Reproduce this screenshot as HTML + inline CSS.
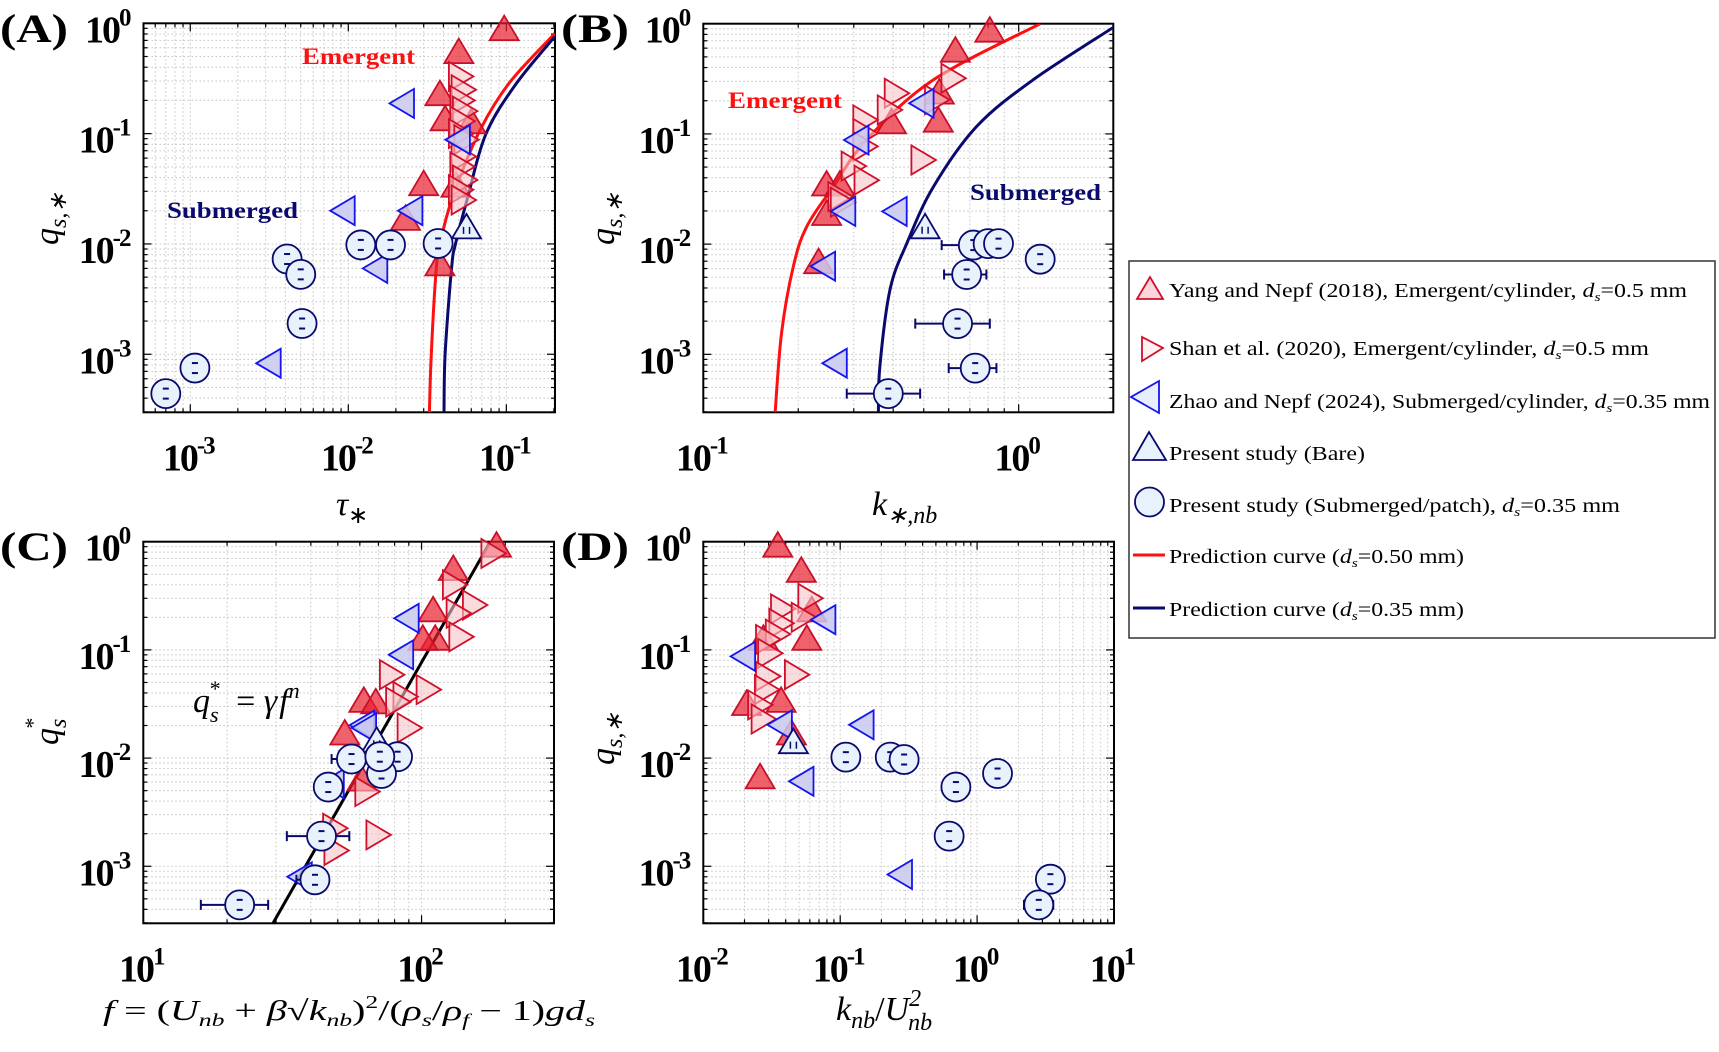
<!DOCTYPE html>
<html><head><meta charset="utf-8"><title>Sediment transport panels</title>
<style>
html,body{margin:0;padding:0;background:#fff;}
svg{display:block;font-family:"Liberation Serif",serif;}
</style></head>
<body>
<svg id="fig" width="1719" height="1052" viewBox="0 0 1719 1052" xmlns="http://www.w3.org/2000/svg">
<rect x="0" y="0" width="1719" height="1052" fill="#fff"/>
<g id="layer"></g>
<g>
  <rect x="1129" y="261" width="586" height="377" fill="#fff" stroke="#333" stroke-width="1.5"/>
  <g>
    <polygon points="1137,299 1163,299 1150,277" fill="#f9d6d9" stroke="#d0102a" stroke-width="1.8"/>
    <text x="1169" y="297" font-size="20" textLength="518" lengthAdjust="spacingAndGlyphs">Yang and Nepf (2018), Emergent/cylinder, <tspan font-style="italic">d</tspan><tspan font-size="13" dy="4" font-style="italic">s</tspan><tspan dy="-4">=0.5 mm</tspan></text>
  </g>
  <g>
    <polygon points="1142,337 1163,348 1142,361" fill="#fff0f1" stroke="#d0102a" stroke-width="1.8"/>
    <text x="1169" y="355" font-size="20" textLength="480" lengthAdjust="spacingAndGlyphs">Shan et al. (2020), Emergent/cylinder, <tspan font-style="italic">d</tspan><tspan font-size="13" dy="4" font-style="italic">s</tspan><tspan dy="-4">=0.5 mm</tspan></text>
  </g>
  <g>
    <polygon points="1159,381 1159,413 1131,397" fill="#e8eefc" stroke="#1515f0" stroke-width="1.8"/>
    <text x="1169" y="408" font-size="20" textLength="541" lengthAdjust="spacingAndGlyphs">Zhao and Nepf (2024), Submerged/cylinder, <tspan font-style="italic">d</tspan><tspan font-size="13" dy="4" font-style="italic">s</tspan><tspan dy="-4">=0.35 mm</tspan></text>
  </g>
  <g>
    <polygon points="1133,460 1166,460 1149,432" fill="#e8f2fc" stroke="#0a0a6e" stroke-width="1.8"/>
    <text x="1169" y="460" font-size="20" textLength="196" lengthAdjust="spacingAndGlyphs">Present study (Bare)</text>
  </g>
  <g>
    <ellipse cx="1149.5" cy="502" rx="14.5" ry="14.5" fill="#e8f2fc" stroke="#0a0a6e" stroke-width="1.8"/>
    <text x="1169" y="512" font-size="20" textLength="451" lengthAdjust="spacingAndGlyphs">Present study (Submerged/patch), <tspan font-style="italic">d</tspan><tspan font-size="13" dy="4" font-style="italic">s</tspan><tspan dy="-4">=0.35 mm</tspan></text>
  </g>
  <g>
    <line x1="1133" y1="555" x2="1165" y2="555" stroke="#ff1010" stroke-width="3"/>
    <text x="1169" y="563" font-size="20" textLength="295" lengthAdjust="spacingAndGlyphs">Prediction curve (<tspan font-style="italic">d</tspan><tspan font-size="13" dy="4" font-style="italic">s</tspan><tspan dy="-4">=0.50 mm)</tspan></text>
  </g>
  <g>
    <line x1="1133" y1="608" x2="1165" y2="608" stroke="#0a0a6e" stroke-width="3"/>
    <text x="1169" y="616" font-size="20" textLength="295" lengthAdjust="spacingAndGlyphs">Prediction curve (<tspan font-style="italic">d</tspan><tspan font-size="13" dy="4" font-style="italic">s</tspan><tspan dy="-4">=0.35 mm)</tspan></text>
  </g>
</g>
<g font-weight="bold" font-size="40">
  <text x="0" y="42" textLength="68" lengthAdjust="spacingAndGlyphs">(A)</text>
  <text x="561" y="42" textLength="68" lengthAdjust="spacingAndGlyphs">(B)</text>
  <text x="0" y="560" textLength="68" lengthAdjust="spacingAndGlyphs">(C)</text>
  <text x="561" y="560" textLength="68" lengthAdjust="spacingAndGlyphs">(D)</text>
</g>
<g font-weight="bold" font-size="23">
  <text x="302" y="64" fill="#ff1010" textLength="113" lengthAdjust="spacingAndGlyphs">Emergent</text>
  <text x="167" y="218" fill="#0a0a6e" textLength="131" lengthAdjust="spacingAndGlyphs">Submerged</text>
  <text x="728" y="108" fill="#ff1010" textLength="114" lengthAdjust="spacingAndGlyphs">Emergent</text>
  <text x="970" y="200" fill="#0a0a6e" textLength="131" lengthAdjust="spacingAndGlyphs">Submerged</text>
</g>
<g font-size="34" font-style="italic">
  <text x="193" y="712">q<tspan font-size="22" dy="10">s</tspan><tspan font-size="22" dx="-10" dy="-26">*</tspan><tspan font-style="normal" dy="16" dx="8"> = </tspan>γ<tspan dx="2">f</tspan><tspan font-size="22" dy="-14">n</tspan></text>
</g>
<g font-size="34" font-style="italic">
  <text x="336" y="515">τ<tspan font-size="24" dy="8" font-style="normal">∗</tspan></text>
  <text x="872" y="515">k<tspan font-size="24" dy="8">∗,nb</tspan></text>
  <text transform="translate(58,245) rotate(-90)">q<tspan font-size="24" dy="8">s,∗</tspan></text>
  <text transform="translate(614,245) rotate(-90)">q<tspan font-size="24" dy="8">s,∗</tspan></text>
  <text transform="translate(58,745) rotate(-90)">q<tspan font-size="24" dy="8">s</tspan><tspan font-size="22" dx="-11" dy="-26">*</tspan></text>
  <text transform="translate(614,765) rotate(-90)">q<tspan font-size="24" dy="8">s,∗</tspan></text>
  <text x="103" y="1020" font-size="28" textLength="492" lengthAdjust="spacingAndGlyphs">f<tspan font-style="normal"> = (</tspan>U<tspan font-size="18" dy="6">nb</tspan><tspan font-style="normal" dy="-6"> + </tspan>β<tspan font-style="normal">√</tspan>k<tspan font-size="18" dy="6">nb</tspan><tspan font-style="normal" dy="-6">)</tspan><tspan font-style="normal" font-size="18" dy="-12">2</tspan><tspan font-style="normal" dy="12">/(</tspan>ρ<tspan font-size="18" dy="6">s</tspan><tspan font-style="normal" dy="-6">/</tspan>ρ<tspan font-size="18" dy="6">f</tspan><tspan font-style="normal" dy="-6"> − 1)</tspan>gd<tspan font-size="18" dy="6">s</tspan></text>
  <text x="836" y="1020">k<tspan font-size="24" dy="8">nb</tspan><tspan font-style="normal" dy="-8">/</tspan>U<tspan font-size="24" dy="-14">2</tspan><tspan font-size="24" dx="-13" dy="24">nb</tspan></text>
</g>
</svg>
<script>
// ===== Data =====
// Panel A: x = tau_*, y = q_{s,*}
const aYangX = [0.097, 0.050, 0.038, 0.041, 0.060, 0.030, 0.048, 0.023, 0.038];
const aYangY = [0.84, 0.52, 0.216, 0.128, 0.12, 0.033, 0.032, 0.016, 0.0062];
const aShanX = [0.049, 0.051, 0.050, 0.052, 0.050, 0.049, 0.053, 0.051, 0.050, 0.052, 0.049, 0.051];
const aShanY = [0.33, 0.25, 0.20, 0.16, 0.13, 0.10, 0.088, 0.062, 0.050, 0.038, 0.031, 0.025];
const aZhaoX = [0.023, 0.052, 0.0097, 0.026, 0.0156, 0.0033];
const aZhaoY = [0.188, 0.088, 0.020, 0.020, 0.006, 0.00083];
const aBareX = [0.056];
const aBareY = [0.0134];
const aPresX = [0.012, 0.0185, 0.037, 0.0041, 0.005, 0.0051, 0.00107, 0.0007];
const aPresY = [0.0098, 0.0098, 0.0101, 0.0073, 0.0053, 0.0019, 0.00075, 0.00044];
const aPresLo = [0.0115, 0, 0, 0, 0, 0.0046, 0, 0.00058];
const aPresHi = [0, 0, 0, 0, 0, 0, 0, 0.00085];
const aRedX = [0.0326, 0.0335, 0.0361, 0.0381, 0.0451, 0.0665, 0.104, 0.203];
const aRedY = [0.0003, 0.001, 0.0062, 0.01, 0.025, 0.1, 0.286, 0.81];
const aNavyX = [0.0403, 0.041, 0.0451, 0.0477, 0.0564, 0.0745, 0.116, 0.203];
const aNavyY = [0.0003, 0.001, 0.0062, 0.01, 0.025, 0.1, 0.286, 0.76];

// Panel B: x = k_{*,nb}
const bYangX = [0.81, 0.63, 0.56, 0.556, 0.395, 0.246, 0.271, 0.246, 0.232];
const bYangY = [0.82, 0.54, 0.225, 0.125, 0.121, 0.033, 0.033, 0.0178, 0.0065];
const bShanX = [0.605, 0.40, 0.537, 0.38, 0.318, 0.318, 0.318, 0.486, 0.292, 0.321, 0.265, 0.27];
const bShanY = [0.32, 0.234, 0.204, 0.165, 0.134, 0.101, 0.077, 0.058, 0.051, 0.038, 0.027, 0.024];
const bZhaoX = [0.505, 0.314, 0.285, 0.415, 0.246, 0.268];
const bZhaoY = [0.19, 0.088, 0.0198, 0.0198, 0.0063, 0.00083];
const bBareX = [0.505];
const bBareY = [0.0135];
const bPresX = [0.718, 0.80, 0.863, 1.17, 0.684, 0.64, 0.728, 0.386];
const bPresY = [0.0098, 0.0101, 0.0101, 0.0073, 0.0053, 0.0019, 0.00075, 0.00044];
const bPresLo = [0.57, 0, 0, 0, 0.58, 0.47, 0.60, 0.285];
const bPresHi = [0, 0, 0, 0, 0.79, 0.81, 0.85, 0.487];
const bRedX = [0.169, 0.177, 0.193, 0.213, 0.258, 0.330, 0.536, 1.17];
const bRedY = [0.0003, 0.00155, 0.0063, 0.0145, 0.033, 0.089, 0.309, 1.0];
const bNavyX = [0.359, 0.363, 0.391, 0.442, 0.536, 0.736, 1.11, 2.0];
const bNavyY = [0.0003, 0.00078, 0.0039, 0.0102, 0.033, 0.117, 0.309, 0.93];

// Panel C: x = f, y = q_s^*
const cYangX = [186, 130, 110, 112, 101, 62, 68.5, 53, 61];
const cYangY = [0.87, 0.53, 0.22, 0.12, 0.12, 0.032, 0.031, 0.016, 0.006];
const cShanX = [176, 128, 151, 132, 135, 76, 103, 85, 80, 88, 62, 47.5, 68, 48];
const cShanY = [0.78, 0.40, 0.26, 0.218, 0.132, 0.059, 0.043, 0.037, 0.033, 0.019, 0.0049, 0.00225, 0.00195, 0.0014];
const cZhaoX = [91, 87, 63, 64, 49, 37.6];
const cZhaoY = [0.196, 0.09, 0.0202, 0.019, 0.0058, 0.0008];
const cBareX = [69];
const cBareY = [0.0137];
const cPresX = [22.2, 41.4, 43.7, 46.2, 56, 82, 71.8, 70.8];
const cPresY = [0.00044, 0.00075, 0.0019, 0.0054, 0.0098, 0.0103, 0.0072, 0.0103];
const cPresLo = [16.1, 35.5, 32.8, 41.5, 47.5, 0, 0, 0];
const cPresHi = [28.1, 44.5, 55, 0, 0, 0, 0, 0];
const cFitX = [29.3, 175];
const cFitY = [0.0003, 0.96];

// Panel D: x = k_nb / U_nb^2
const dYangX = [0.035, 0.052, 0.062, 0.057, 0.0275, 0.037, 0.0207, 0.044, 0.026];
const dYangY = [0.87, 0.51, 0.22, 0.12, 0.12, 0.032, 0.030, 0.016, 0.0063];
const dShanX = [0.057, 0.036, 0.051, 0.035, 0.033, 0.028, 0.029, 0.0455, 0.028, 0.0275, 0.0245, 0.026];
const dShanY = [0.30, 0.24, 0.20, 0.176, 0.14, 0.125, 0.093, 0.059, 0.057, 0.043, 0.031, 0.023];
const dZhaoX = [0.08, 0.0207, 0.0385, 0.152, 0.0553, 0.29];
const dZhaoY = [0.19, 0.087, 0.0203, 0.0203, 0.0061, 0.00084];
const dBareX = [0.0455];
const dBareY = [0.0133];
const dPresX = [0.110, 0.232, 0.293, 0.70, 1.41, 0.625, 3.43, 2.82];
const dPresY = [0.0102, 0.0102, 0.0097, 0.0054, 0.0072, 0.0019, 0.00076, 0.00044];
const dPresLo = [0, 0, 0, 0, 0, 0.50, 0, 2.2];
const dPresHi = [0, 0, 0, 0, 0, 0.78, 0, 3.6];

// ===== drawing =====
const NS = 'http://www.w3.org/2000/svg';
const layer = document.getElementById('layer');
function mk(tag, attrs, parent) {
  const e = document.createElementNS(NS, tag);
  for (const k in attrs) e.setAttribute(k, attrs[k]);
  (parent || layer).appendChild(e);
  return e;
}
function makeAxes(px0, px1, py0, py1, lx0, lx1, ly0, ly1) {
  return {
    px0, px1, py0, py1, lx0, lx1, ly0, ly1,
    sx: v => px0 + (Math.log10(v) - lx0) / (lx1 - lx0) * (px1 - px0),
    sy: v => py0 + (Math.log10(v) - ly0) / (ly1 - ly0) * (py1 - py0)
  };
}
const axA = makeAxes(143.5, 555, 23.3, 412.3, -3.296, -0.692, 0, -3.526);
const axB = makeAxes(703.3, 1113.3, 23.7, 412.3, -1, 0.30, 0, -3.526);
const axC = makeAxes(143.3, 554, 541.7, 923.3, 1, 2.476, 0, -3.527);
const axD = makeAxes(703.3, 1114, 541.7, 923.3, -2, 1, 0, -3.527);

function drawFrame(ax, name, xLabels, yLabels) {
  const g = mk('g', {});
  
  
  const grid = mk('g', {stroke: '#c4c4c4', 'stroke-width': 1, 'stroke-dasharray': '1.5,2.5', fill: 'none'}, g);
  
  
  const ticks = mk('g', {stroke: '#000', 'stroke-width': 1.2}, g);
  const xs = [], ys = [];
  for (let d = Math.floor(ax.lx0) - 1; d <= Math.ceil(ax.lx1); d++) {
    for (let m = 1; m <= 9; m++) {
      const l = d + Math.log10(m);
      if (l < ax.lx0 - 1e-6 || l > ax.lx1 + 1e-6) continue;
      xs.push([Math.pow(10, l), m === 1]);
    }
  }
  for (let d = Math.floor(ax.ly1) - 1; d <= Math.ceil(ax.ly0); d++) {
    for (let m = 1; m <= 9; m++) {
      const l = d + Math.log10(m);
      if (l < ax.ly1 - 1e-6 || l > ax.ly0 + 1e-6) continue;
      ys.push([Math.pow(10, l), m === 1]);
    }
  }
  xs.forEach(([v, maj]) => {
    const x = ax.sx(v);
    mk('line', {x1: x, x2: x, y1: ax.py0, y2: ax.py1}, grid);
    const L = maj ? 8 : 4;
    mk('line', {x1: x, x2: x, y1: ax.py1, y2: ax.py1 - L}, ticks);
    mk('line', {x1: x, x2: x, y1: ax.py0, y2: ax.py0 + L}, ticks);
  });
  ys.forEach(([v, maj]) => {
    const y = ax.sy(v);
    mk('line', {x1: ax.px0, x2: ax.px1, y1: y, y2: y}, grid);
    const L = maj ? 8 : 4;
    mk('line', {x1: ax.px0, x2: ax.px0 + L, y1: y, y2: y}, ticks);
    mk('line', {x1: ax.px1, x2: ax.px1 - L, y1: y, y2: y}, ticks);
  });
  const box = mk('rect', {x: ax.px0, y: ax.py0, width: ax.px1 - ax.px0, height: ax.py1 - ax.py0, fill: 'none', stroke: '#000', 'stroke-width': 2}, g);
  
  
  xLabels.forEach(e => {
    const t = mk('text', {x: ax.sx(Math.pow(10, e)) - 2, y: ax.py1 + 58, 'text-anchor': 'middle', 'font-size': 38, 'font-weight': 'bold', 'letter-spacing': '-2'}, g);
    
    
    const a = mk('tspan', {}, t); a.textContent = '10';
    const b = mk('tspan', {'font-size': 25, dy: -17}, t); b.textContent = String(e);
  });
  yLabels.forEach(e => {
    const t = mk('text', {x: ax.px0 - 14, y: ax.sy(Math.pow(10, e)) + 19, 'text-anchor': 'end', 'font-size': 38, 'font-weight': 'bold', 'letter-spacing': '-2'}, g);
    
    
    const a = mk('tspan', {}, t); a.textContent = '10';
    const b = mk('tspan', {'font-size': 25, dy: -17}, t); b.textContent = String(e);
  });
}
function clipFor(ax, id) {
  const cp = mk('clipPath', {id: id});
  mk('rect', {x: ax.px0, y: ax.py0, width: ax.px1 - ax.px0, height: ax.py1 - ax.py0}, cp);
  return 'url(#' + id + ')';
}
function curve(ax, X, Y, color, name, clip) {
  const P = X.map((v, i) => [ax.sx(v), ax.sy(Y[i])]);
  let d = 'M' + P[0][0].toFixed(1) + ',' + P[0][1].toFixed(1);
  for (let i = 0; i < P.length - 1; i++) {
    const p0 = P[Math.max(0, i - 1)], p1 = P[i], p2 = P[i + 1], p3 = P[Math.min(P.length - 1, i + 2)];
    const c1 = [p1[0] + (p2[0] - p0[0]) / 6, p1[1] + (p2[1] - p0[1]) / 6];
    const c2 = [p2[0] - (p3[0] - p1[0]) / 6, p2[1] - (p3[1] - p1[1]) / 6];
    d += ' C' + c1[0].toFixed(1) + ',' + c1[1].toFixed(1) + ' ' + c2[0].toFixed(1) + ',' + c2[1].toFixed(1) + ' ' + p2[0].toFixed(1) + ',' + p2[1].toFixed(1);
  }
  const p = mk('path', {d: d, fill: 'none', stroke: color, 'stroke-width': 3, 'stroke-linejoin': 'round', 'clip-path': clip});
  
  
}
function tri(ax, X, Y, dir, fill, stroke, name, op) {
  const g = mk('g', {});
  
  
  X.forEach((v, i) => {
    const x = ax.sx(v), y = ax.sy(Y[i]);
    let pts;
    if (dir === 'up') pts = [[x - 14.5, y + 8.5], [x + 14.5, y + 8.5], [x, y - 16]];
    else if (dir === 'right') pts = [[x - 8.5, y - 14.5], [x - 8.5, y + 14.5], [x + 16, y]];
    else pts = [[x + 8.5, y - 14.5], [x + 8.5, y + 14.5], [x - 16, y]];
    const p = mk('polygon', {points: pts.map(q => q[0].toFixed(1) + ',' + q[1].toFixed(1)).join(' '), fill: fill, 'fill-opacity': op, stroke: stroke, 'stroke-width': 1.8}, g);
    
    
  });
}
function circles(ax, X, Y, Lo, Hi, name) {
  const g = mk('g', {});
  
  
  X.forEach((v, i) => {
    const x = ax.sx(v), y = ax.sy(Y[i]);
    if (Lo && Lo[i]) {
      const xl = ax.sx(Lo[i]);
      mk('line', {x1: xl, x2: x, y1: y, y2: y, stroke: '#0a0a6e', 'stroke-width': 2}, g);
      mk('line', {x1: xl, x2: xl, y1: y - 5, y2: y + 5, stroke: '#0a0a6e', 'stroke-width': 2}, g);
    }
    if (Hi && Hi[i]) {
      const xh = ax.sx(Hi[i]);
      mk('line', {x1: x, x2: xh, y1: y, y2: y, stroke: '#0a0a6e', 'stroke-width': 2}, g);
      mk('line', {x1: xh, x2: xh, y1: y - 5, y2: y + 5, stroke: '#0a0a6e', 'stroke-width': 2}, g);
    }
    const c = mk('circle', {cx: x, cy: y, r: 14.5, fill: '#e8f2fc', stroke: '#0a0a6e', 'stroke-width': 1.8}, g);
    
    
    mk('line', {x1: x - 3, x2: x + 3, y1: y - 5, y2: y - 5, stroke: '#0a0a6e', 'stroke-width': 2}, g);
    mk('line', {x1: x - 3, x2: x + 3, y1: y + 5, y2: y + 5, stroke: '#0a0a6e', 'stroke-width': 2}, g);
  });
}
function bare(ax, X, Y, name) {
  tri(ax, X, Y, 'up', '#e8f2fc', '#0a0a6e', name, 1);
  X.forEach((v, i) => {
    const x = ax.sx(v), y = ax.sy(Y[i]);
    mk('line', {x1: x - 3, x2: x - 3, y1: y - 3, y2: y + 4, stroke: '#0a0a6e', 'stroke-width': 1.5});
    mk('line', {x1: x + 3, x2: x + 3, y1: y - 3, y2: y + 4, stroke: '#0a0a6e', 'stroke-width': 1.5});
  });
}
function panel(ax, id, xl, yl, d) {
  drawFrame(ax, id, xl, yl);
  const clip = clipFor(ax, 'clip-' + id);
  if (d.curves) d.curves.forEach(c => curve(ax, c[0], c[1], c[2], c[3], clip));
  tri(ax, d.yx, d.yy, 'up', '#e8202e', '#c8102a', id + '-yang', 0.7);
  tri(ax, d.sx, d.sy, 'right', '#f9c4c8', '#d0102a', id + '-shan', 0.6);
  tri(ax, d.zx, d.zy, 'left', '#c8c8ee', '#1515f0', id + '-zhao', 0.85);
  bare(ax, d.bx, d.by, id + '-bare');
  circles(ax, d.px, d.py, d.plo, d.phi, id + '-present');
}
panel(axA, 'panel-a', [-3, -2, -1], [0, -1, -2, -3], {
  curves: [[aRedX, aRedY, '#ff1010', 'curve-050-a'], [aNavyX, aNavyY, '#0a0a6e', 'curve-035-a']],
  yx: aYangX, yy: aYangY, sx: aShanX, sy: aShanY, zx: aZhaoX, zy: aZhaoY,
  bx: aBareX, by: aBareY, px: aPresX, py: aPresY, plo: aPresLo, phi: aPresHi});
panel(axB, 'panel-b', [-1, 0], [0, -1, -2, -3], {
  curves: [[bRedX, bRedY, '#ff1010', 'curve-050-b'], [bNavyX, bNavyY, '#0a0a6e', 'curve-035-b']],
  yx: bYangX, yy: bYangY, sx: bShanX, sy: bShanY, zx: bZhaoX, zy: bZhaoY,
  bx: bBareX, by: bBareY, px: bPresX, py: bPresY, plo: bPresLo, phi: bPresHi});
panel(axC, 'panel-c', [1, 2], [0, -1, -2, -3], {
  curves: [[cFitX, cFitY, '#000', 'fit-line-c']],
  yx: cYangX, yy: cYangY, sx: cShanX, sy: cShanY, zx: cZhaoX, zy: cZhaoY,
  bx: cBareX, by: cBareY, px: cPresX, py: cPresY, plo: cPresLo, phi: cPresHi});
panel(axD, 'panel-d', [-2, -1, 0, 1], [0, -1, -2, -3], {
  yx: dYangX, yy: dYangY, sx: dShanX, sy: dShanY, zx: dZhaoX, zy: dZhaoY,
  bx: dBareX, by: dBareY, px: dPresX, py: dPresY, plo: dPresLo, phi: dPresHi});
</script>
</body></html>
